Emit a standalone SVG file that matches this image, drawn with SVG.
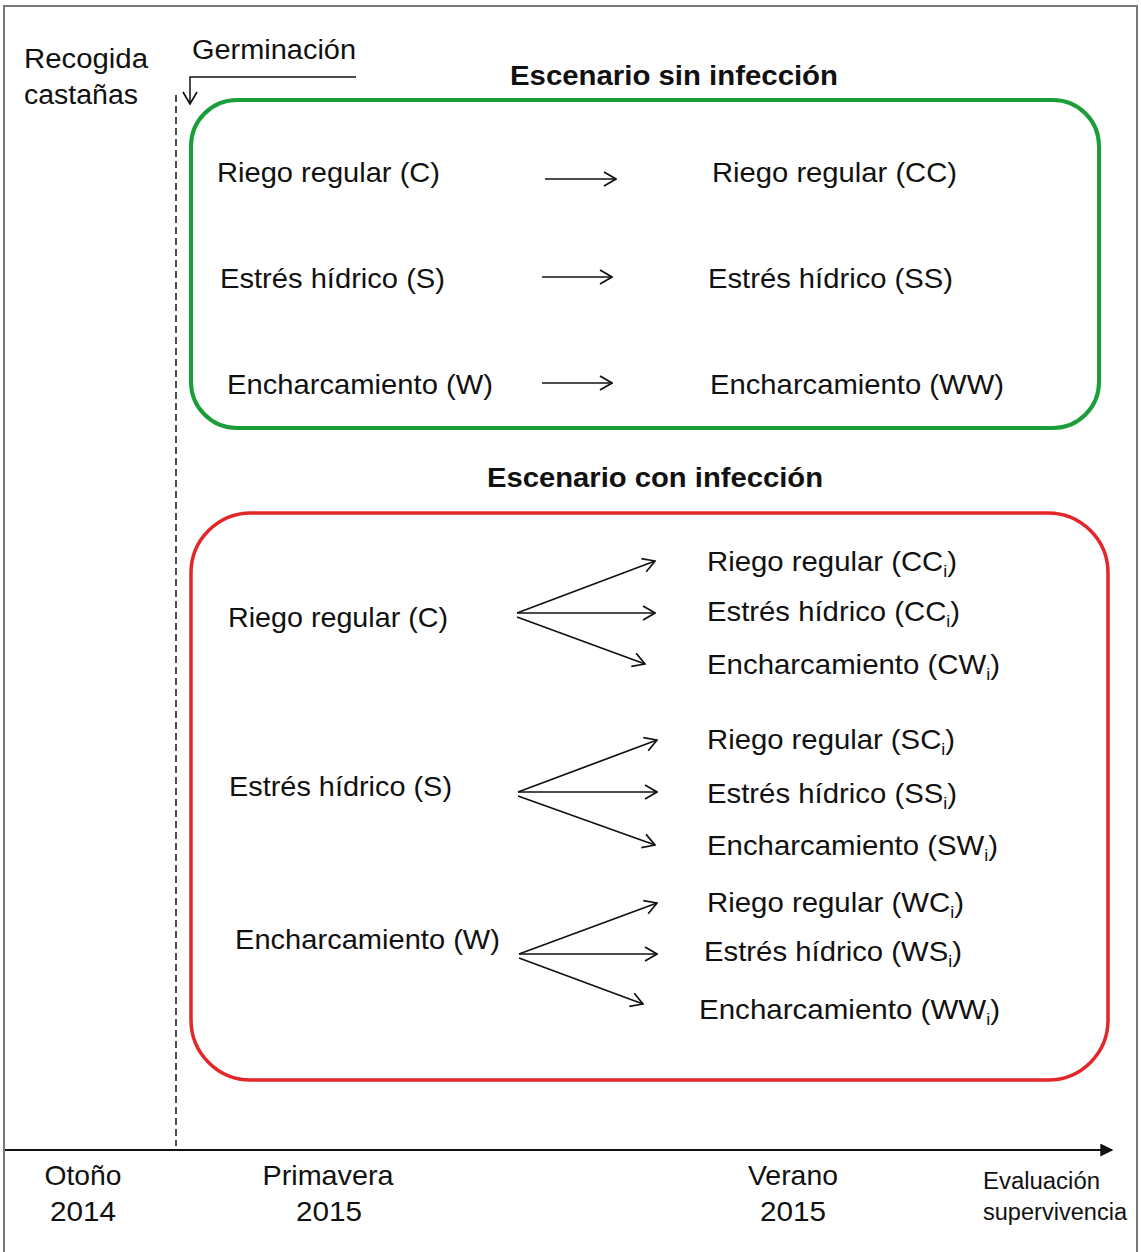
<svg xmlns="http://www.w3.org/2000/svg" width="1141" height="1252" viewBox="0 0 1141 1252">
<defs>
<style>
text{font-family:"Liberation Sans",Arial,sans-serif;fill:#111;}
.t{font-size:28px;}
.b{font-size:27px;font-weight:bold;}
.s{font-size:27px;}
.ax{font-size:28px;}
.ev{font-size:23px;}
.sub{font-size:17px;}
.ar{fill:none;stroke:#111;stroke-width:1.7;marker-end:url(#open);}
</style>
<marker id="open" viewBox="0 0 14 16" refX="13" refY="8" markerWidth="14" markerHeight="16" markerUnits="userSpaceOnUse" orient="auto">
<path d="M1,1 L13,8 L1,15" fill="none" stroke="#111" stroke-width="1.7"/>
</marker>
<marker id="solid" viewBox="0 0 10 10" refX="9" refY="5" markerWidth="13" markerHeight="13" markerUnits="userSpaceOnUse" orient="auto">
<path d="M0,0 L10,5 L0,10 Z" fill="#111"/>
</marker>
</defs>
<rect x="0" y="0" width="1141" height="1252" fill="#fff"/>
<rect x="4" y="6" width="1133" height="1252" fill="none" stroke="#777" stroke-width="2"/>

<g id="timeline">
<line x1="176" y1="95" x2="176" y2="1146" stroke="#222" stroke-width="1.6" stroke-dasharray="7,4"/>
<line x1="5" y1="1150" x2="1112" y2="1150" stroke="#111" stroke-width="2" marker-end="url(#solid)"/>
<text class="s" x="24" y="68" textLength="124" lengthAdjust="spacingAndGlyphs">Recogida</text>
<text class="s" x="24" y="104" textLength="114" lengthAdjust="spacingAndGlyphs">castañas</text>
<text class="s" x="192" y="59" textLength="164" lengthAdjust="spacingAndGlyphs">Germinación</text>
<path d="M356,77 L190,77 L190,104" fill="none" stroke="#111" stroke-width="1.5" marker-end="url(#open)"/>
<text class="ax" x="83" y="1185" text-anchor="middle" textLength="77" lengthAdjust="spacingAndGlyphs">Otoño</text>
<text class="ax" x="83" y="1221" text-anchor="middle" textLength="66" lengthAdjust="spacingAndGlyphs">2014</text>
<text class="ax" x="328" y="1185" text-anchor="middle" textLength="131" lengthAdjust="spacingAndGlyphs">Primavera</text>
<text class="ax" x="329" y="1221" text-anchor="middle" textLength="66" lengthAdjust="spacingAndGlyphs">2015</text>
<text class="ax" x="793" y="1185" text-anchor="middle" textLength="90" lengthAdjust="spacingAndGlyphs">Verano</text>
<text class="ax" x="793" y="1221" text-anchor="middle" textLength="66" lengthAdjust="spacingAndGlyphs">2015</text>
<text class="ev" x="983" y="1189" textLength="117" lengthAdjust="spacingAndGlyphs">Evaluación</text>
<text class="ev" x="983" y="1220" textLength="144" lengthAdjust="spacingAndGlyphs">supervivencia</text>
</g>

<g id="sin-infeccion">
<rect x="191" y="100" width="908" height="328" rx="46" ry="46" fill="none" stroke="#1a9e3a" stroke-width="4"/>
<text class="b" x="674" y="85" text-anchor="middle" textLength="328" lengthAdjust="spacingAndGlyphs">Escenario sin infección</text>
<text class="t" x="217" y="182" textLength="223" lengthAdjust="spacingAndGlyphs">Riego regular (C)</text>
<text class="t" x="220" y="288" textLength="225" lengthAdjust="spacingAndGlyphs">Estrés hídrico (S)</text>
<text class="t" x="227" y="394" textLength="266" lengthAdjust="spacingAndGlyphs">Encharcamiento (W)</text>
<text class="t" x="712" y="182" textLength="245" lengthAdjust="spacingAndGlyphs">Riego regular (CC)</text>
<text class="t" x="708" y="288" textLength="245" lengthAdjust="spacingAndGlyphs">Estrés hídrico (SS)</text>
<text class="t" x="710" y="394" textLength="294" lengthAdjust="spacingAndGlyphs">Encharcamiento (WW)</text>
</g>

<g id="con-infeccion">
<rect x="191" y="513" width="917" height="567" rx="60" ry="60" fill="none" stroke="#e3262a" stroke-width="3.5"/>
<text class="b" x="655" y="487" text-anchor="middle" textLength="336" lengthAdjust="spacingAndGlyphs">Escenario con infección</text>
<text class="t" x="228" y="627" textLength="220" lengthAdjust="spacingAndGlyphs">Riego regular (C)</text>
<text class="t" x="229" y="796" textLength="223" lengthAdjust="spacingAndGlyphs">Estrés hídrico (S)</text>
<text class="t" x="235" y="949" textLength="265" lengthAdjust="spacingAndGlyphs">Encharcamiento (W)</text>

<text class="t" x="707" y="571" textLength="250" lengthAdjust="spacingAndGlyphs">Riego regular (CC<tspan class="sub" dy="6">i</tspan><tspan dy="-6">)</tspan></text>
<text class="t" x="707" y="621" textLength="253" lengthAdjust="spacingAndGlyphs">Estrés hídrico (CC<tspan class="sub" dy="6">i</tspan><tspan dy="-6">)</tspan></text>
<text class="t" x="707" y="674" textLength="293" lengthAdjust="spacingAndGlyphs">Encharcamiento (CW<tspan class="sub" dy="6">i</tspan><tspan dy="-6">)</tspan></text>
<text class="t" x="707" y="749" textLength="248" lengthAdjust="spacingAndGlyphs">Riego regular (SC<tspan class="sub" dy="6">i</tspan><tspan dy="-6">)</tspan></text>
<text class="t" x="707" y="803" textLength="250" lengthAdjust="spacingAndGlyphs">Estrés hídrico (SS<tspan class="sub" dy="6">i</tspan><tspan dy="-6">)</tspan></text>
<text class="t" x="707" y="855" textLength="291" lengthAdjust="spacingAndGlyphs">Encharcamiento (SW<tspan class="sub" dy="6">i</tspan><tspan dy="-6">)</tspan></text>
<text class="t" x="707" y="912" textLength="257" lengthAdjust="spacingAndGlyphs">Riego regular (WC<tspan class="sub" dy="6">i</tspan><tspan dy="-6">)</tspan></text>
<text class="t" x="704" y="961" textLength="258" lengthAdjust="spacingAndGlyphs">Estrés hídrico (WS<tspan class="sub" dy="6">i</tspan><tspan dy="-6">)</tspan></text>
<text class="t" x="699" y="1019" textLength="301" lengthAdjust="spacingAndGlyphs">Encharcamiento (WW<tspan class="sub" dy="6">i</tspan><tspan dy="-6">)</tspan></text>
</g>

<g id="connectors">
<line class="ar" x1="545" y1="179" x2="616" y2="179"/>
<line class="ar" x1="542" y1="277" x2="612" y2="277"/>
<line class="ar" x1="542" y1="383" x2="612" y2="383"/>

<line class="ar" x1="517" y1="613" x2="655" y2="561"/>
<line class="ar" x1="517" y1="613" x2="655" y2="613"/>
<line class="ar" x1="517" y1="617" x2="645" y2="664"/>

<line class="ar" x1="518" y1="792" x2="657" y2="740"/>
<line class="ar" x1="518" y1="792" x2="657" y2="792"/>
<line class="ar" x1="518" y1="796" x2="655" y2="845"/>

<line class="ar" x1="519" y1="954" x2="657" y2="903"/>
<line class="ar" x1="519" y1="954" x2="657" y2="954"/>
<line class="ar" x1="519" y1="958" x2="643" y2="1004"/>
</g>
</svg>
